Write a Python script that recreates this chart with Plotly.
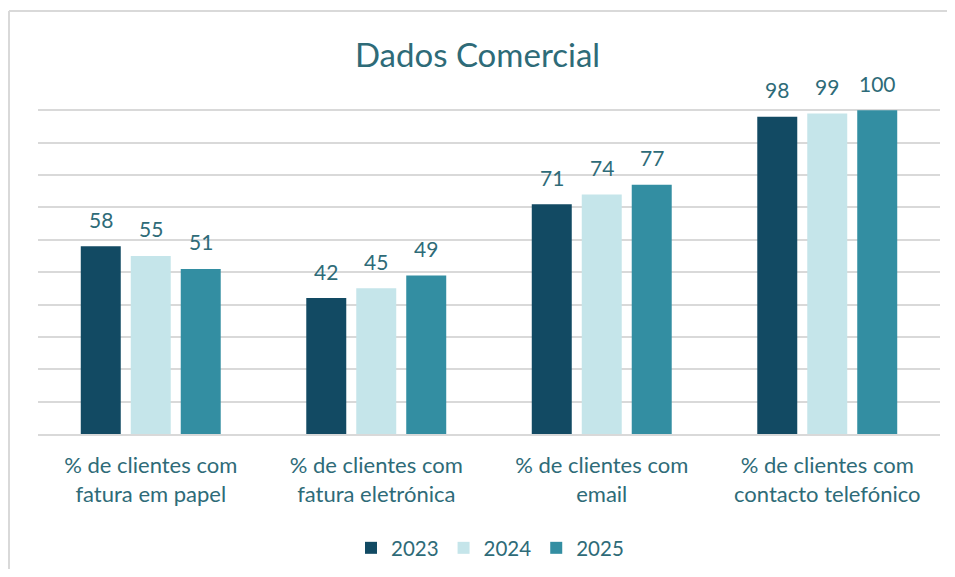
import plotly.graph_objects as go

categories = ["% de clientes com<br>fatura em papel",
              "% de clientes com<br>fatura eletrónica",
              "% de clientes com<br>email",
              "% de clientes com<br>contacto telefónico"]
years = ["2023", "2024", "2025"]
values_2023 = [58, 42, 71, 98]
values_2024 = [55, 45, 74, 99]
values_2025 = [51, 49, 77, 100]
colors = ["#124A63", "#C5E5EA", "#338EA2"]
text_color = "#2E6B78"
font_family = "Lato, 'Open Sans', sans-serif"

# page has an 8px body margin; figure sized to fit the 955x577 window without scrollbars
W, H = 939, 561
L, T = 30, 101
plot_right, plot_bottom = 932, 426
R, B = W - plot_right, H - plot_bottom
pw, ph = W - L - R, H - T - B

fig = go.Figure()
series = [values_2023, values_2024, values_2025]
for name, vals, col in zip(years, series, colors):
    fig.add_trace(go.Bar(
        x=categories, y=vals, name=name, marker=dict(color=col, line=dict(width=0)),
    ))

# data labels above bars, offset per bar within group
slot_px = 50
annotations = []
for i, (vals, name) in enumerate(zip(series, years)):
    for c, v in zip(categories, vals):
        annotations.append(dict(
            x=c, y=v, xref="x", yref="y", text=str(v), showarrow=False,
            xshift=(i - 1) * slot_px, yshift=27, yanchor="middle",
            font=dict(size=21, color=text_color, family=font_family)))

# chart-area frame: only the left and top edges are visible in the window
fx0 = (1 - L) / pw
fy1 = (plot_bottom - 3) / ph
fy0 = -(H - plot_bottom) / ph
fx1 = 1 + R / pw
frame = [
    dict(type="line", xref="paper", yref="paper", x0=fx0, x1=fx0, y0=fy0, y1=fy1,
         line=dict(color="#D9D9D9", width=2), layer="below"),
    dict(type="line", xref="paper", yref="paper", x0=fx0, x1=fx1, y0=fy1, y1=fy1,
         line=dict(color="#D9D9D9", width=2), layer="below"),
]

fig.update_layout(
    width=W, height=H,
    margin=dict(l=L, r=R, t=T, b=B, autoexpand=False),
    paper_bgcolor="white", plot_bgcolor="white",
    barmode="group", bargap=0.335, bargroupgap=0.2,
    title=dict(text="Dados Comercial", x=0.5, xanchor="center", y=1 - 47 / H, yanchor="middle",
               font=dict(size=33, color=text_color, family=font_family)),
    font=dict(family=font_family, color=text_color),
    legend=dict(orientation="h", x=(482 - L) / pw, xanchor="center", y=-(540 - plot_bottom) / ph,
                yanchor="middle",
                font=dict(size=20.5, color=text_color), traceorder="normal", itemwidth=30),
    showlegend=True,
    annotations=annotations,
    xaxis=dict(showgrid=False, showline=True, linecolor="#D9D9D9", linewidth=2, automargin=False,
               tickfont=dict(size=22, color=text_color), ticks="", ticklabelstandoff=11),
    yaxis=dict(range=[0, 100.4], dtick=10, showgrid=True, gridcolor="#D9D9D9", gridwidth=2,
               showticklabels=False, zeroline=False, showline=False, fixedrange=True,
               automargin=False),
    shapes=frame,
)

fig.write_html("out.html")
